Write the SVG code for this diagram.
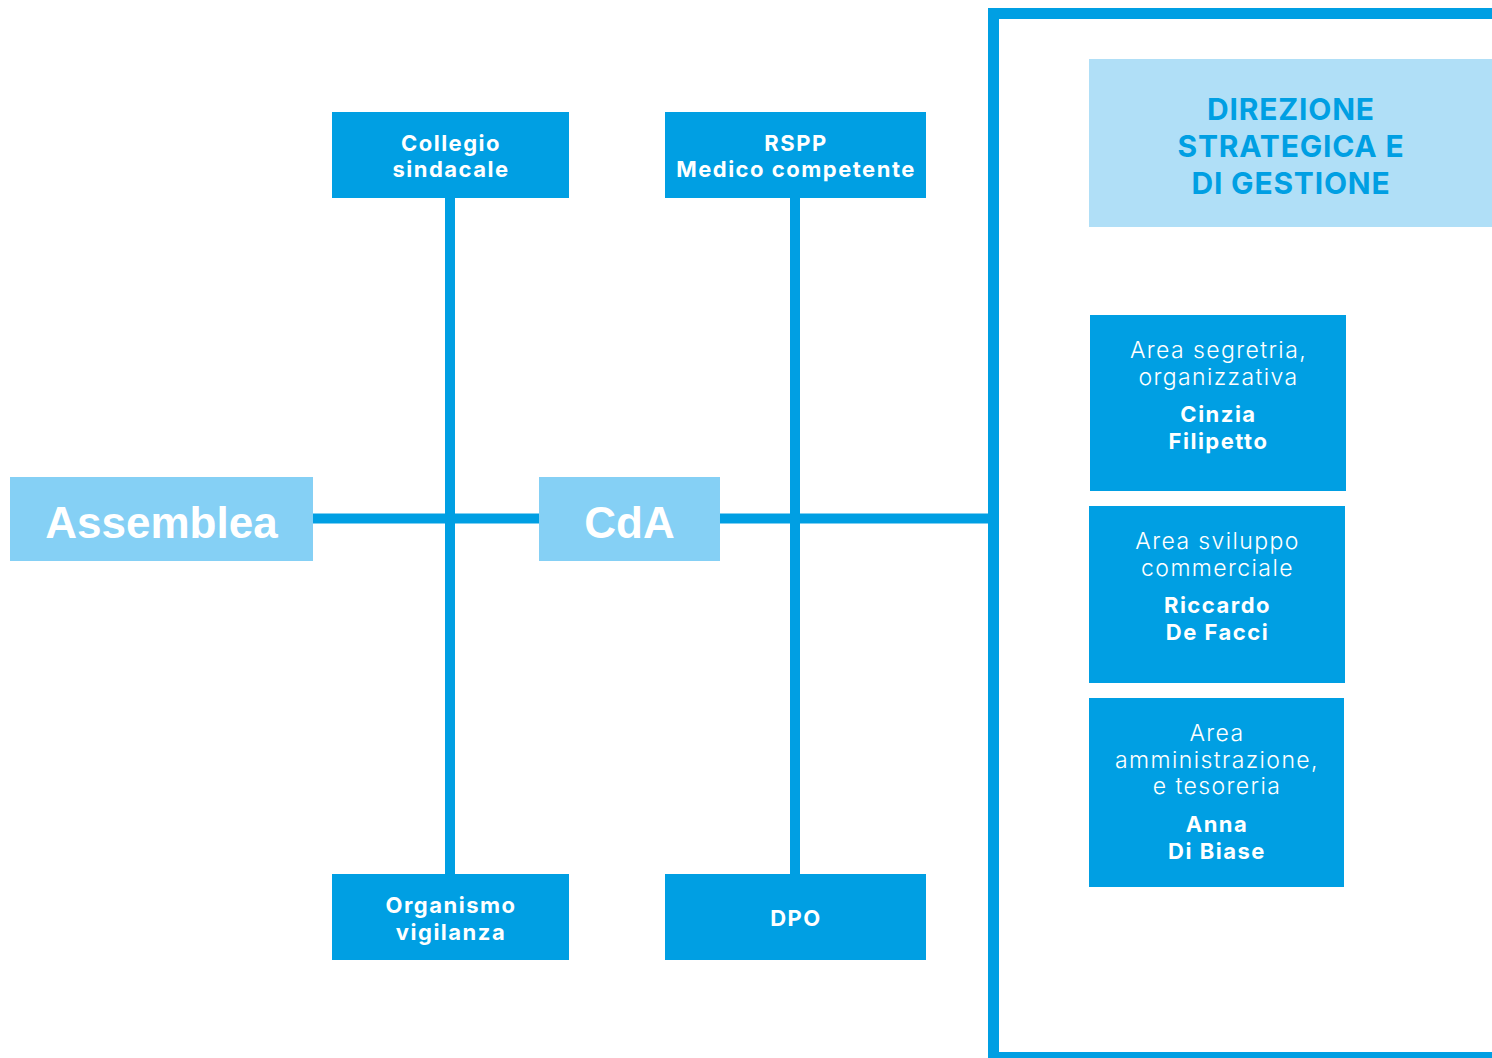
<svg xmlns="http://www.w3.org/2000/svg" width="1492" height="1058" viewBox="0 0 1492 1058">
<style>
.box{fill:#009fe3}
.lt{fill:#85d0f5}
.dir{fill:#b0dff7}
.ln{stroke:#009fe3;stroke-width:10;fill:none}
.b{font-family:Inter,"Noto Sans","Liberation Sans",sans-serif;font-weight:700;font-size:22px;letter-spacing:1.5px;fill:#fff;text-anchor:middle}
.l{font-family:Inter,"Noto Sans","Liberation Sans",sans-serif;font-weight:300;font-size:23px;letter-spacing:1.4px;fill:#fff;text-anchor:middle}
.big{font-family:"Liberation Sans",Arial,sans-serif;font-weight:700;font-size:44px;fill:#fff;text-anchor:middle}
.dt{font-family:Inter,"Noto Sans","Liberation Sans",sans-serif;font-weight:700;font-size:30px;letter-spacing:0.8px;fill:#009fe3;text-anchor:middle}
</style>
<rect width="1492" height="1058" fill="#fff"/>
<g id="connectors">
<line class="ln" x1="313" y1="518.5" x2="993" y2="518.5"/>
<line class="ln" x1="450" y1="198" x2="450" y2="874"/>
<line class="ln" x1="795" y1="198" x2="795" y2="874"/>
</g>
<g id="frame">
<rect x="993.5" y="13.5" width="520" height="1044" fill="none" stroke="#009fe3" stroke-width="11"/>
</g>
<g id="assemblea">
<rect class="lt" x="10" y="477" width="303" height="84"/>
<text class="big" x="161.5" y="538">Assemblea</text>
</g>
<g id="cda">
<rect class="lt" x="539" y="477" width="181" height="84"/>
<text class="big" x="629.5" y="538">CdA</text>
</g>
<g id="collegio">
<rect class="box" x="332" y="112" width="237" height="86"/>
<text class="b" x="451" y="151">Collegio</text>
<text class="b" x="451" y="177">sindacale</text>
</g>
<g id="rspp">
<rect class="box" x="665" y="112" width="261" height="86"/>
<text class="b" x="796" y="151">RSPP</text>
<text class="b" x="796" y="177">Medico competente</text>
</g>
<g id="organismo">
<rect class="box" x="332" y="874" width="237" height="86"/>
<text class="b" x="451" y="913">Organismo</text>
<text class="b" x="451" y="940">vigilanza</text>
</g>
<g id="dpo">
<rect class="box" x="665" y="874" width="261" height="86"/>
<text class="b" x="796" y="926">DPO</text>
</g>
<g id="direzione">
<rect class="dir" x="1089" y="59" width="403" height="168"/>
<text class="dt" x="1291" y="120">DIREZIONE</text>
<text class="dt" x="1291" y="157">STRATEGICA E</text>
<text class="dt" x="1291" y="194">DI GESTIONE</text>
</g>
<g id="area1">
<rect class="box" x="1090" y="315" width="256" height="176"/>
<text class="l" x="1218.5" y="358">Area segretria,</text>
<text class="l" x="1218.5" y="385">organizzativa</text>
<text class="b" x="1218.5" y="422">Cinzia</text>
<text class="b" x="1218.5" y="449">Filipetto</text>
</g>
<g id="area2">
<rect class="box" x="1089" y="506" width="256" height="177"/>
<text class="l" x="1217.5" y="549">Area sviluppo</text>
<text class="l" x="1217.5" y="576">commerciale</text>
<text class="b" x="1217.5" y="613">Riccardo</text>
<text class="b" x="1217.5" y="640">De Facci</text>
</g>
<g id="area3">
<rect class="box" x="1089" y="698" width="255" height="189"/>
<text class="l" x="1217" y="741">Area</text>
<text class="l" x="1217" y="768">amministrazione,</text>
<text class="l" x="1217" y="794">e tesoreria</text>
<text class="b" x="1217" y="832">Anna</text>
<text class="b" x="1217" y="859">Di Biase</text>
</g>
</svg>
